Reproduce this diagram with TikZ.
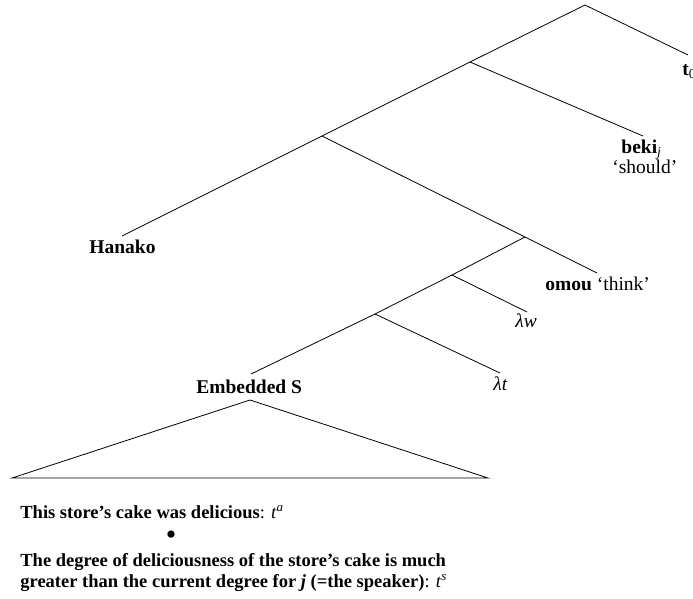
\documentclass[tikz,border=0pt]{standalone}
\usepackage{fontspec}
\setmainfont{Liberation Serif}
\begin{document}
\begin{tikzpicture}[x=1pt,y=-1pt,line width=0.8pt,
  lbl/.style={inner sep=0pt,anchor=base west,font=\fontsize{19.5}{22}\selectfont},
  txt/.style={inner sep=0pt,anchor=base west,align=left,font=\fontsize{18.5}{21}\selectfont\bfseries}]
\useasboundingbox (0,0) rectangle (693,598);
% branch points
\coordinate (root) at (585,5);
\coordinate (n1) at (470,62);
\coordinate (n2) at (322,136);
\coordinate (n3) at (525,237);
\coordinate (n4) at (452,275);
\coordinate (n5) at (375,314);
% line ends
\coordinate (et0) at (688,55);
\coordinate (ebeki) at (643,136);
\coordinate (ehanako) at (122,236);
\coordinate (eomou) at (597,273);
\coordinate (elw) at (527,312);
\coordinate (elt) at (500,373);
\coordinate (eemb) at (251,374);
% tree
\draw (ehanako) -- (n2) -- (n1) -- (root) -- (et0);
\draw (n1) -- (ebeki);
\draw (n2) -- (n3) -- (eomou);
\draw (n3) -- (n4) -- (n5) -- (eemb);
\draw (n4) -- (elw);
\draw (n5) -- (elt);
% triangle
\coordinate (tapex) at (250,400);
\coordinate (tl) at (12,478);
\coordinate (tr) at (488,478);
\draw (tapex) -- (tl) -- (tr) -- cycle;
% labels
\node[lbl] (t0) at (682,75) {\textbf{t}\textsubscript{0}};
\node[lbl] (beki) at (621,153) {\textbf{beki}\textsubscript{\textit{j}}};
\node[lbl] (should) at (612,173) {‘should’};
\node[lbl] (hanako) at (89,253) {\textbf{Hanako}};
\node[lbl] (omou) at (545,290) {\textbf{omou} ‘think’};
\node[lbl] (lw) at (515,327) {\textit{λw}};
\node[lbl] (lt) at (493,390) {\textit{λt}};
\node[lbl] (emb) at (196,393) {\textbf{Embedded S}};
% bottom text
\node[txt] (s1) at (20,518) {This store’s cake was delicious\textmd{: \textit{t}\textsuperscript{\textit{a}}}};
\node[inner sep=0pt,anchor=center,font=\fontsize{30}{30}\selectfont] (bullet) at (171,538) {•};
\node[txt] (s2) at (20,566) {The degree of deliciousness of the store’s cake is much};
\node[txt] (s3) at (20,587) {greater than the current degree for \textit{j} (=the speaker)\textmd{: \textit{t}\textsuperscript{\textit{s}}}};
\end{tikzpicture}
\end{document}
